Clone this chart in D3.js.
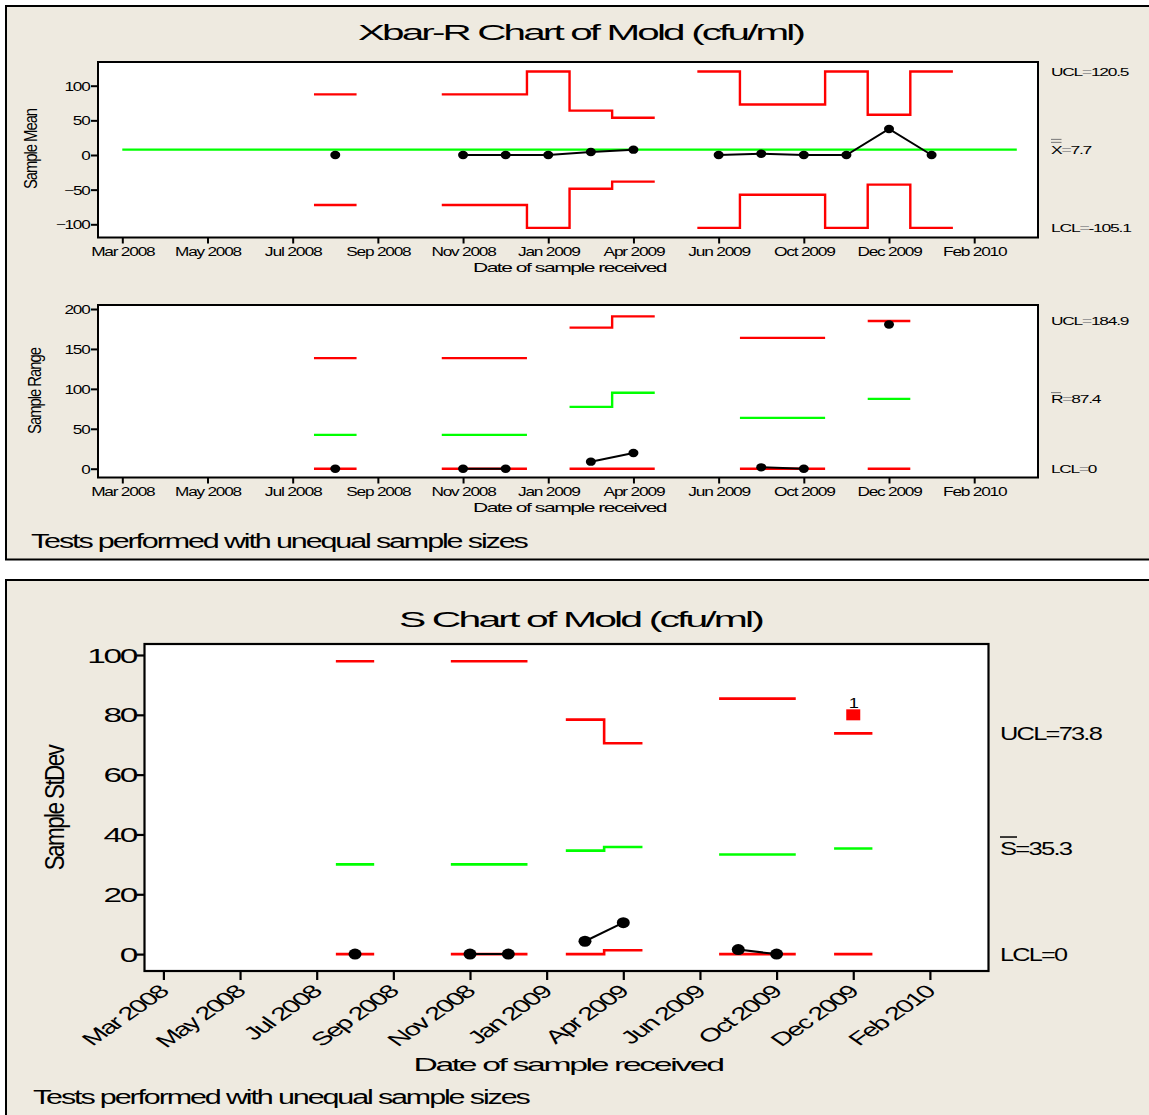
<!DOCTYPE html>
<html>
<head>
<meta charset="utf-8">
<script src="https://cdn.jsdelivr.net/npm/d3@7"></script>
<style>
  html, body { margin: 0; padding: 0; background: #fff; }
  svg { display: block; font-family: "Liberation Sans", Arial, sans-serif; }
</style>
</head>
<body>
<svg id="chart" width="1149" height="1115"></svg>
<script>
// ---- Date ticks: subgroup index and label ----
const tickIndex = [1, 3, 5, 7, 9, 11, 13, 15, 17, 19, 21];
const tickLabels = ["Mar 2008", "May 2008", "Jul 2008", "Sep 2008", "Nov 2008", "Jan 2009",
                    "Apr 2009", "Jun 2009", "Oct 2009", "Dec 2009", "Feb 2010"];

// ---- Xbar chart ----
const meanSubgroups = [6, 9, 10, 11, 12, 13, 15, 16, 17, 18, 19, 20];
const sampleMeans   = [0, 0, 0, 0, 4.3, 7.7, 0, 1.9, 0, 0, 37.5, 0];
const meanUCL       = [87.5, 87.5, 87.5, 120.5, 64.1, 53.8, 120.5, 72.8, 72.8, 120.5, 58.1, 120.5];
const meanLCL       = [-72.1, -72.1, -72.1, -105.1, -48.7, -38.4, -105.1, -57.4, -57.4, -105.1, -42.7, -105.1];
const grandMean     = 7.7;
const grandMeanSpan = [1, 22];
const meanTicks     = [-100, -50, 0, 50, 100];

// ---- R chart ----
const rangeSubgroups = [6, 9, 10, 12, 13, 16, 17, 19];
const sampleRanges   = [0, 0, 0, 8.8, 19.6, 1.7, 0, 180.5];
const rangeUCL       = [138.5, 138.5, 138.5, 176.7, 190.8, 163.8, 163.8, 184.9];
const rangeCL        = [42.4, 42.4, 42.4, 77.4, 95.2, 63.6, 63.6, 87.4];
const rangeLCL       = [0, 0, 0, 0, 0, 0, 0, 0];
const rangeTicks     = [0, 50, 100, 150, 200];

// ---- S chart ----
const sdSubgroups = [6, 9, 10, 12, 13, 16, 17, 19];
const sampleSDs   = [0, 0, 0, 4.3, 10.5, 1.5, 0, 80];
const sdUCL       = [97.9, 97.9, 97.9, 78.4, 70.5, 85.4, 85.4, 73.8];
const sdCL        = [30.0, 30.0, 30.0, 34.6, 35.8, 33.3, 33.3, 35.3];
const sdLCL       = [0, 0, 0, 0, 1.3, 0, 0, 0];
const sdTicks     = [0, 20, 40, 60, 80, 100];

// ---- styling ----
const BEIGE = "#EEEAE0", RED = "#FF0000", GREEN = "#00FF00", GREY_EQ = "#9a9a9a";
const TIGHT = -0.07;   // letter spacing (em) of the condensed lettering

const svg = d3.select("#chart");
svg.append("rect").attr("width", 1149).attr("height", 1115).attr("fill", "#fff");

// two framed panels
svg.append("rect").attr("x", 6).attr("y", 6).attr("width", 1170).attr("height", 553.5)
  .attr("fill", BEIGE).attr("stroke", "#000").attr("stroke-width", 2);
svg.append("rect").attr("x", 6).attr("y", 580).attr("width", 1170).attr("height", 560)
  .attr("fill", BEIGE).attr("stroke", "#000").attr("stroke-width", 2);

// Tighten the letter spacing of a text node, then widen its glyphs so the
// overall length stays the same as the unspaced text.
function tighten(node) {
  node.style.letterSpacing = "0px";
  const w0 = node.getComputedTextLength();
  node.style.letterSpacing = TIGHT + "em";
  const w1 = node.getComputedTextLength();
  const f = (w1 > 0 && w0 > 0) ? w0 / w1 : 1;
  const tr = node.getAttribute("transform") || "";
  node.setAttribute("transform", tr + ` scale(${f},1)`);
}

// text drawn with a horizontal stretch around its anchor
function label(g, x, y, parts, o) {
  const t = g.append("text")
    .attr("transform", `translate(${x},${y}) scale(${o.sx || 1},1)` + (o.rotate ? ` rotate(${o.rotate})` : ""))
    .attr("font-size", o.size)
    .attr("text-anchor", o.anchor || "start")
    .attr("fill", "#000");
  if (typeof parts === "string") parts = [{ t: parts }];
  parts.forEach(p => t.append("tspan").text(p.t).attr("fill", p.fill || "#000"));
  tighten(t.node());
  return t;
}

// consecutive subgroups form one run of connected marks
function runs(idx) {
  const out = [];
  let cur = [];
  idx.forEach((d, i) => {
    if (cur.length && d !== idx[cur[cur.length - 1]] + 1) { out.push(cur); cur = []; }
    cur.push(i);
  });
  if (cur.length) out.push(cur);
  return out;
}

function stepPath(x, y, idx, vals, run) {
  const pts = [];
  run.forEach(i => {
    pts.push([x(idx[i] - 0.5), y(vals[i])]);
    pts.push([x(idx[i] + 0.5), y(vals[i])]);
  });
  return d3.line()(pts);
}

function drawChart(c) {
  const g = svg.append("g");
  const { x, y, frame } = c;

  g.append("rect")
    .attr("x", frame.left).attr("y", frame.top)
    .attr("width", frame.right - frame.left).attr("height", frame.bottom - frame.top)
    .attr("fill", "#fff");

  const rs = runs(c.idx);

  // control limits
  c.limits.forEach(L => {
    rs.forEach(run => {
      g.append("path").attr("d", stepPath(x, y, c.idx, L.values, run))
        .attr("fill", "none").attr("stroke", L.color).attr("stroke-width", c.limitWidth);
    });
  });
  if (c.flatCenter) {
    g.append("line")
      .attr("x1", x(c.flatCenter.span[0])).attr("x2", x(c.flatCenter.span[1]))
      .attr("y1", y(c.flatCenter.value)).attr("y2", y(c.flatCenter.value))
      .attr("stroke", GREEN).attr("stroke-width", c.limitWidth);
  }

  // data line and points
  const line = d3.line().x(i => x(c.idx[i])).y(i => y(c.values[i]));
  rs.forEach(run => {
    if (run.length > 1) {
      g.append("path").attr("d", line(run)).attr("fill", "none")
        .attr("stroke", "#000").attr("stroke-width", 2);
    }
  });
  c.idx.forEach((d, i) => {
    const out = c.flagAbove && c.values[i] > c.flagAbove[i];
    if (out) {
      g.append("rect")
        .attr("x", x(d) - c.square[0] / 2).attr("y", y(c.values[i]) - c.square[1] / 2)
        .attr("width", c.square[0]).attr("height", c.square[1]).attr("fill", RED);
      label(g, x(d), y(c.values[i]) - c.square[1] / 2 - 1, "1", { size: 14.5, anchor: "middle", sx: 1.1 });
    } else {
      g.append("ellipse").attr("cx", x(d)).attr("cy", y(c.values[i]))
        .attr("rx", c.dot[0]).attr("ry", c.dot[1]).attr("fill", "#000");
    }
  });

  // frame
  g.append("rect")
    .attr("x", frame.left).attr("y", frame.top)
    .attr("width", frame.right - frame.left).attr("height", frame.bottom - frame.top)
    .attr("fill", "none").attr("stroke", "#000").attr("stroke-width", c.frameWidth);

  // x axis
  const xa = g.append("g").attr("transform", `translate(0,${frame.bottom})`)
    .call(d3.axisBottom(x).tickValues(tickIndex).tickFormat((d, i) => tickLabels[i]).tickSize(c.xTick));
  xa.select(".domain").remove();
  xa.selectAll("line").attr("stroke", "#000").attr("stroke-width", c.tickWidth);
  xa.attr("font-family", null).attr("font-size", c.xFont);
  xa.selectAll("text").attr("fill", "#000").attr("dy", null).attr("y", null);
  if (c.rotated) {
    xa.selectAll("text").attr("text-anchor", "end")
      .attr("transform", `translate(${c.rotated.dx},${c.rotated.dy}) scale(${c.xSx},1) rotate(-45)`);
  } else {
    xa.selectAll("text").attr("text-anchor", "middle")
      .attr("transform", `translate(0,${c.xTextY}) scale(${c.xSx},1)`);
  }
  xa.selectAll("text").each(function () { tighten(this); });

  // y axis
  const ya = g.append("g").attr("transform", `translate(${frame.left},0)`)
    .call(d3.axisLeft(y).tickValues(c.yTicks).tickSize(c.yTick));
  ya.select(".domain").remove();
  ya.selectAll("line").attr("stroke", "#000").attr("stroke-width", c.tickWidth);
  ya.attr("font-family", null).attr("font-size", c.yFont);
  ya.selectAll("text").attr("fill", "#000").attr("x", null).attr("dy", null)
    .attr("transform", `translate(${c.yTextX},${c.yTextDy}) scale(${c.ySx},1)`)
    .each(function () { tighten(this); });

  // axis titles
  label(g, c.xTitle.x, c.xTitle.y, "Date of sample received",
    { size: c.xTitle.size, sx: c.xTitle.sx, anchor: "middle" });
  label(g, c.yTitle.x, c.yTitle.y, c.yTitle.text,
    { size: c.yTitle.size, sx: c.yTitle.sx, anchor: "middle", rotate: -90 });

  // right-hand limit labels
  c.rightLabels.forEach(r => {
    const by = y(r.value) + c.right.dy;
    label(g, c.right.x, by, [{ t: r.name }, { t: "=", fill: c.right.eqFill }, { t: String(r.value) }],
      { size: c.right.size, sx: c.right.sx });
    for (let k = 0; k < (r.bars || 0); k++) {
      g.append("line")
        .attr("x1", c.right.x).attr("x2", c.right.x + c.right.barW)
        .attr("y1", by - c.right.barY - k * c.right.barGap).attr("y2", by - c.right.barY - k * c.right.barGap)
        .attr("stroke", c.right.barColor).attr("stroke-width", c.right.barStroke);
    }
  });
}

// ---------------- Xbar chart ----------------
const xTop = d3.scaleLinear().domain([1, 21]).range([122.3, 974.2]);
const last = a => a[a.length - 1];

drawChart({
  frame: { left: 98, right: 1038, top: 62, bottom: 237.5 },
  x: xTop,
  y: d3.scaleLinear().domain([0, 100]).range([155, 85.7]),
  idx: meanSubgroups, values: sampleMeans,
  limits: [{ values: meanUCL, color: RED }, { values: meanLCL, color: RED }],
  flatCenter: { value: grandMean, span: grandMeanSpan },
  limitWidth: 2.4, frameWidth: 2, tickWidth: 2,
  dot: [5, 4.2],
  xTick: 6, xFont: 12.5, xSx: 1.2, xTextY: 18.5,
  yTicks: meanTicks, yTick: 7, yFont: 12.5, ySx: 1.2, yTextX: -8.5, yTextDy: 4.5,
  xTitle: { x: 569.5, y: 272, size: 13, sx: 1.38 },
  yTitle: { x: 37, y: 149, size: 13, sx: 1.35, text: "Sample Mean" },
  right: { x: 1051, dy: 4.2, size: 11, sx: 1.38, eqFill: GREY_EQ, barW: 10.5, barY: 11.5, barGap: 3, barColor: "#777", barStroke: 1 },
  rightLabels: [
    { name: "UCL", value: last(meanUCL) },
    { name: "X", value: grandMean, bars: 2 },
    { name: "LCL", value: last(meanLCL) }
  ]
});

// ---------------- R chart ----------------
drawChart({
  frame: { left: 98, right: 1038, top: 305, bottom: 477.5 },
  x: xTop,
  y: d3.scaleLinear().domain([0, 200]).range([468.7, 309]),
  idx: rangeSubgroups, values: sampleRanges,
  limits: [{ values: rangeUCL, color: RED }, { values: rangeLCL, color: RED }, { values: rangeCL, color: GREEN }],
  limitWidth: 2.4, frameWidth: 2, tickWidth: 2,
  dot: [5, 4.2],
  xTick: 6, xFont: 12.5, xSx: 1.2, xTextY: 18.5,
  yTicks: rangeTicks, yTick: 7, yFont: 12.5, ySx: 1.2, yTextX: -8.5, yTextDy: 4.5,
  xTitle: { x: 569.5, y: 512, size: 13, sx: 1.38 },
  yTitle: { x: 41, y: 391, size: 13, sx: 1.35, text: "Sample Range" },
  right: { x: 1051, dy: 4.2, size: 11, sx: 1.38, eqFill: GREY_EQ, barW: 10, barY: 10.5, barGap: 3, barColor: "#777", barStroke: 1 },
  rightLabels: [
    { name: "UCL", value: last(rangeUCL) },
    { name: "R", value: last(rangeCL), bars: 1 },
    { name: "LCL", value: last(rangeLCL) }
  ]
});

// titles and notes of the first panel
label(svg, 580.5, 40, "Xbar-R Chart of Mold (cfu/ml)", { size: 22, sx: 1.55, anchor: "middle" });
label(svg, 31, 548, "Tests performed with unequal sample sizes", { size: 19.5, sx: 1.33 });

// ---------------- S chart ----------------
drawChart({
  frame: { left: 144.5, right: 988.5, top: 644, bottom: 971 },
  x: d3.scaleLinear().domain([1, 21]).range([163.4, 929.9]),
  y: d3.scaleLinear().domain([0, 100]).range([954.1, 655]),
  idx: sdSubgroups, values: sampleSDs,
  limits: [{ values: sdUCL, color: RED }, { values: sdLCL, color: RED }, { values: sdCL, color: GREEN }],
  flagAbove: sdUCL,
  limitWidth: 2.6, frameWidth: 2.2, tickWidth: 2.2,
  dot: [6.5, 5.5], square: [14, 11],
  xTick: 9, xFont: 18, xSx: 1.43, rotated: { dx: 5.5, dy: 22 },
  yTicks: sdTicks, yTick: 8, yFont: 19.5, ySx: 1.5, yTextX: -8.5, yTextDy: 7,
  xTitle: { x: 568, y: 1071, size: 18.5, sx: 1.55 },
  yTitle: { x: 63.5, y: 808, size: 19.5, sx: 1.43, text: "Sample StDev" },
  right: { x: 1000, dy: 6.5, size: 17.7, sx: 1.26, eqFill: "#000", barW: 17, barY: 18, barGap: 3, barColor: "#000", barStroke: 1.5 },
  rightLabels: [
    { name: "UCL", value: last(sdUCL) },
    { name: "S", value: last(sdCL), bars: 1 },
    { name: "LCL", value: last(sdLCL) }
  ]
});

label(svg, 580.5, 626.5, "S Chart of Mold (cfu/ml)", { size: 21.5, sx: 1.6, anchor: "middle" });
label(svg, 33, 1104, "Tests performed with unequal sample sizes", { size: 19.5, sx: 1.33 });
</script>
</body>
</html>
